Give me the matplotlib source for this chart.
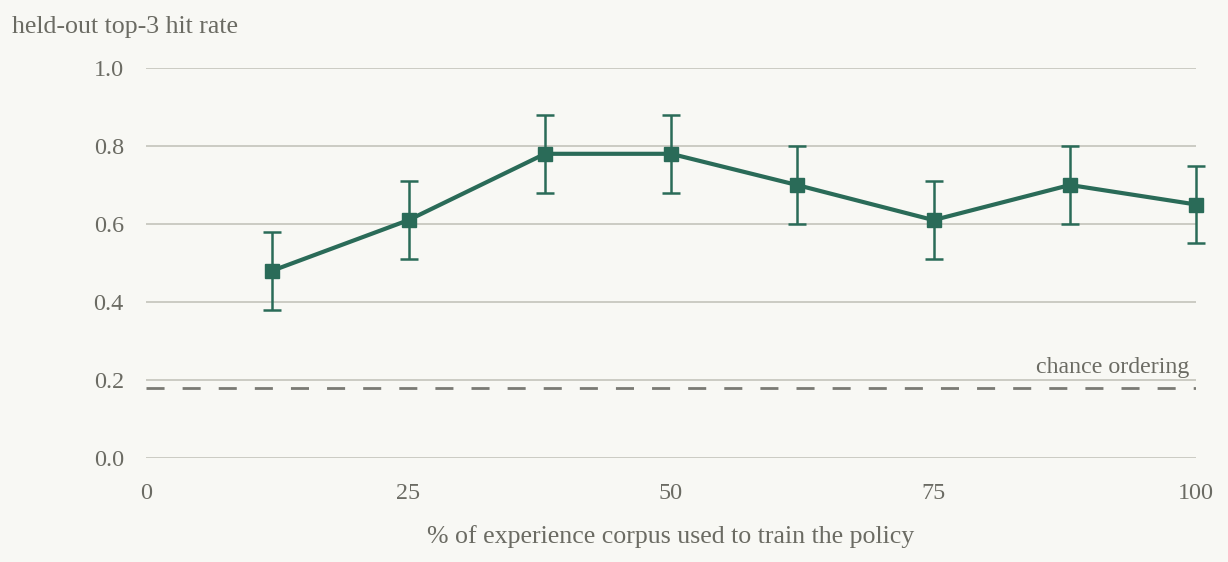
import matplotlib.pyplot as plt
import numpy as np

# data
pct_corpus = [12, 25, 38, 50, 62, 75, 88, 100]
hit_rate = [0.48, 0.61, 0.78, 0.78, 0.70, 0.61, 0.70, 0.65]
err = [0.10, 0.10, 0.10, 0.10, 0.10, 0.10, 0.10, 0.10]
chance_level = 0.18
y_ticks = [0.0, 0.2, 0.4, 0.6, 0.8, 1.0]
x_ticks = [0, 25, 50, 75, 100]

bg = '#f8f8f4'
text_col = '#6b6b63'
line_col = '#2a6b58'
grid_col = '#bfbfb6'

plt.rcParams['font.family'] = ['Liberation Serif', 'DejaVu Serif']

fig = plt.figure(figsize=(12.28, 5.62), dpi=100, facecolor=bg)
ax = fig.add_axes([146 / 1228, 1 - 458 / 562, 1050 / 1228, 390 / 562])
ax.set_facecolor(bg)

ax.set_xlim(0, 100)
ax.set_ylim(0, 1.0)
ax.set_yticks(y_ticks)
ax.set_yticklabels([f'{v:.1f}' for v in y_ticks])
ax.set_xticks(x_ticks)
ax.tick_params(length=0, labelsize=17.4, colors=text_col)
ax.tick_params(axis='y', pad=16)
ax.tick_params(axis='x', pad=18)
for s in ax.spines.values():
    s.set_visible(False)
ax.grid(axis='y', color=grid_col, lw=1.1)
ax.set_axisbelow(True)

ax.axhline(chance_level, color='#7a7a74', lw=2, dashes=(6.5, 6.5), zorder=2)
ax.text(99.4, 0.2 + 0.004, 'chance ordering', ha='right', va='bottom',
        fontsize=17.2, color=text_col)

ax.errorbar(pct_corpus, hit_rate, yerr=err, color=line_col, lw=3,
            marker='s', ms=9.5, elinewidth=1.8, capsize=6.5, capthick=1.8,
            clip_on=False, zorder=3)

ax.set_xlabel('% of experience corpus used to train the policy',
              fontsize=18.6, color=text_col, labelpad=15)
fig.text(12 / 1228, 1 - 27 / 562, 'held-out top-3 hit rate', ha='left',
         va='center', fontsize=18.6, color=text_col)

fig.savefig('out.png', dpi=100, facecolor=bg)
